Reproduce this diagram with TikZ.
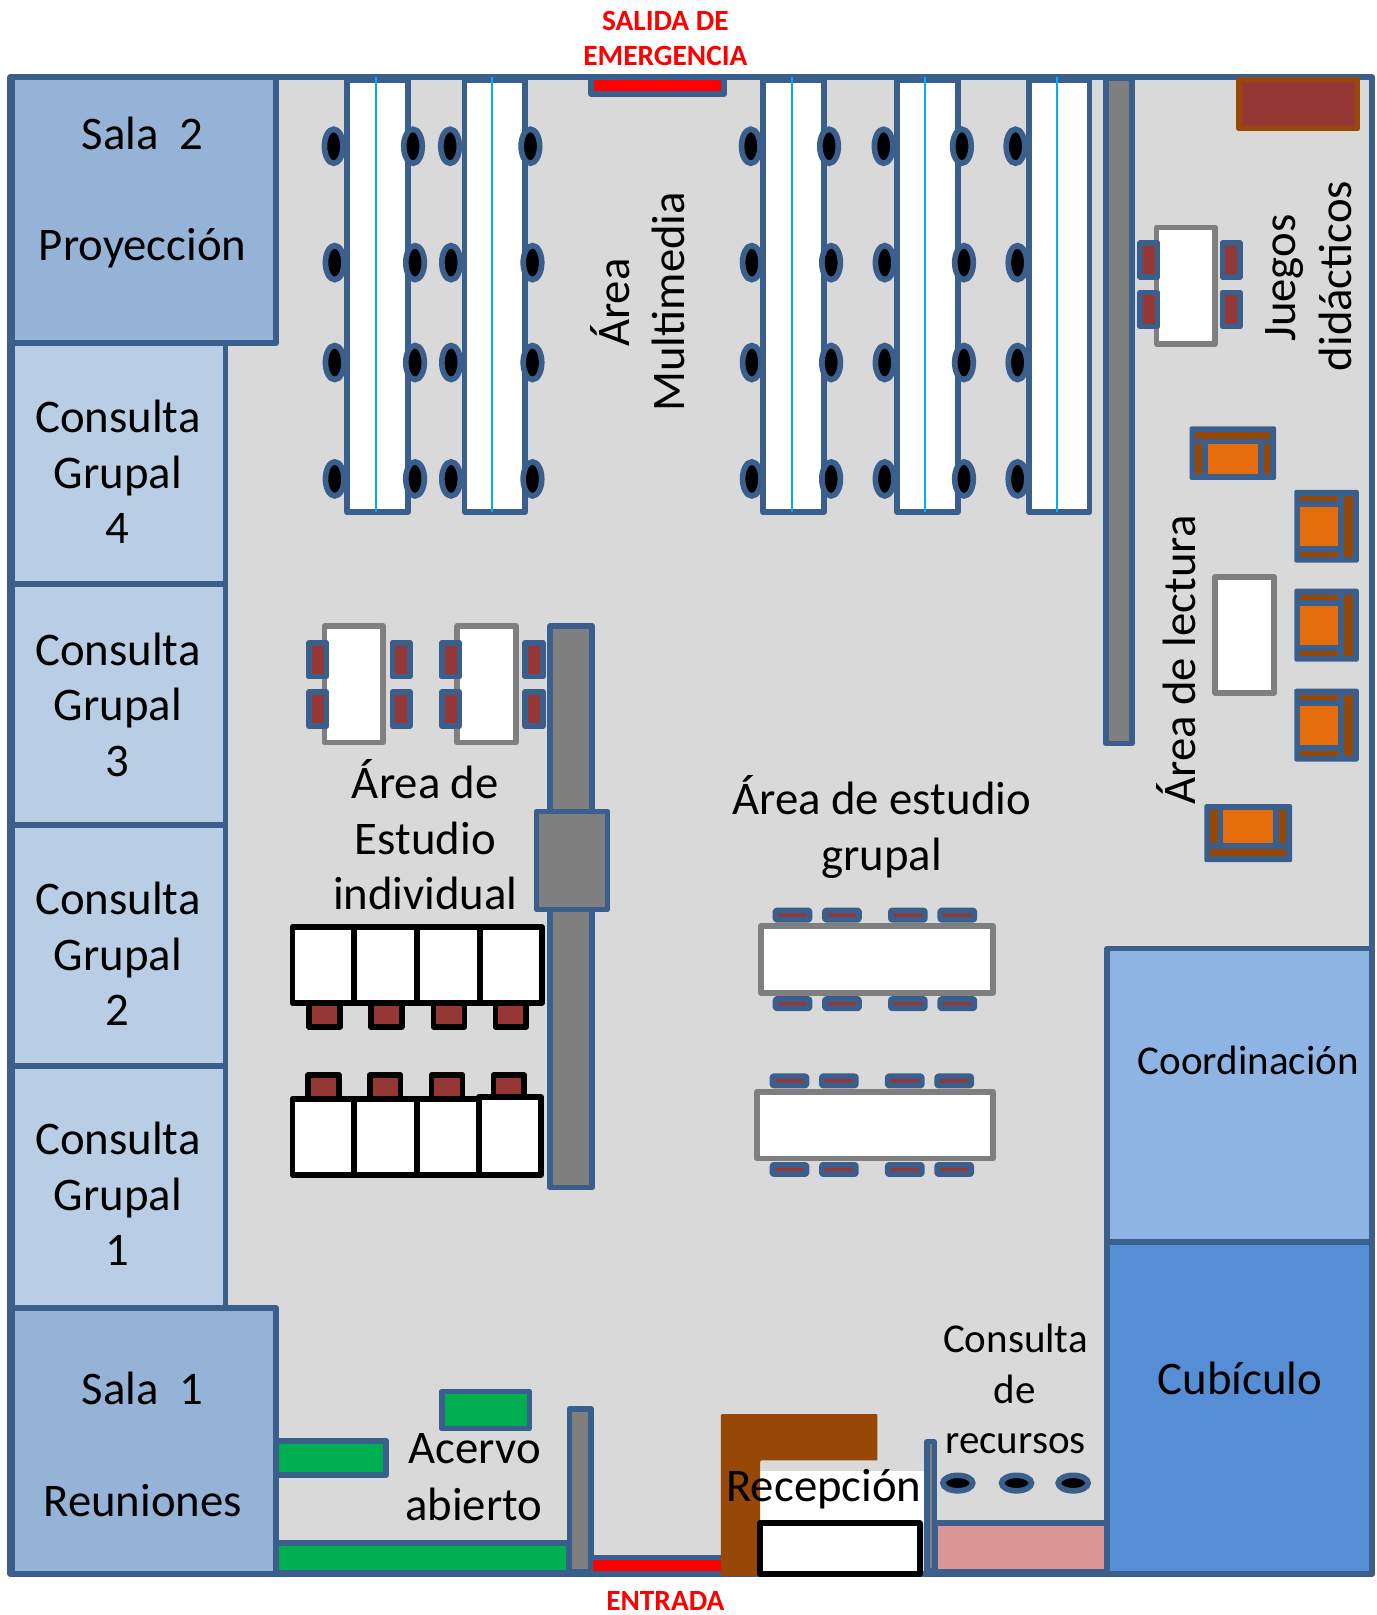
\documentclass[tikz,border=0pt]{standalone}
\usepackage{fontspec}
\setmainfont{Carlito}
\definecolor{wall}{HTML}{3A5F8C}
\definecolor{floorg}{HTML}{D9D9D9}
\definecolor{salab}{HTML}{95B3D7}
\definecolor{cons}{HTML}{B9CDE5}
\definecolor{coord}{HTML}{8EB4E3}
\definecolor{cubi}{HTML}{558ED5}
\definecolor{pil}{HTML}{7F7F7F}
\definecolor{wine}{HTML}{953735}
\definecolor{brownb}{HTML}{974706}
\definecolor{oran}{HTML}{E46C0A}
\definecolor{greenb}{HTML}{00B050}
\definecolor{pinkb}{HTML}{D99694}
\definecolor{cyanl}{HTML}{00B0F0}
\tikzset{
  box/.style={draw=wall,line width=5.5pt,line join=round},
  room/.style={box,fill=#1},
  tablew/.style={box,fill=white},
  tableg/.style={draw=pil,line width=5.5pt,line join=round,fill=white},
  blackb/.style={draw=black,line width=5.5pt,line join=round,fill=#1},
  seat/.style={draw=wall,line width=5.5pt,line join=round,fill=wine},
  stool/.style={draw=wall,line width=5.5pt,fill=black},
  lbl/.style={font=\fontsize{45.4}{54}\selectfont,text=black,inner sep=0pt,text height=39pt,text depth=9pt,align=center},
  lbs/.style={font=\fontsize{39.8}{48}\selectfont,text=black,inner sep=0pt,text height=33pt,text depth=8pt,align=center},
  lbr/.style={font=\fontsize{28.5}{30}\selectfont\bfseries,text=red,inner sep=0pt,text height=23pt,text depth=5pt,align=center},
}
\newcommand\armT[2]{\begin{scope}[shift={(#1,#2)}]
 \fill[wall,rounded corners=2pt] (-42,-26) rectangle (42,26);
 \fill[brownb] (-36.5,-20.8) rectangle (36.5,-14);
 \fill[brownb] (-36.5,-8.8) rectangle (-30,20.4);
 \fill[brownb] (30,-8.8) rectangle (36.5,20.4);
 \fill[oran] (-24,-8.8) rectangle (24,20.4);
\end{scope}}
\newcommand\armB[2]{\begin{scope}[shift={(#1,#2)}]
 \fill[wall,rounded corners=2pt] (-42.7,-28.2) rectangle (42.7,28.2);
 \fill[brownb] (-36.8,15.6) rectangle (36.8,22);
 \fill[brownb] (-36.8,-22.4) rectangle (-29.7,9.7);
 \fill[brownb] (29.7,-22.4) rectangle (36.8,9.7);
 \fill[oran] (-24.2,-22.4) rectangle (24.5,9.7);
\end{scope}}
\newcommand\armR[2]{\begin{scope}[shift={(#1,#2)}]
 \fill[wall,rounded corners=2pt] (-31.3,-35.4) rectangle (31.3,35.4);
 \fill[brownb] (17.4,-29.5) rectangle (25.4,30);
 \fill[brownb] (-25.5,-29.5) rectangle (11.5,-24.6);
 \fill[brownb] (-25.5,25) rectangle (11.5,30);
 \fill[oran] (-25.5,-18.8) rectangle (11.5,19.5);
\end{scope}}
\begin{document}
\begin{tikzpicture}[x=1pt,y=-1pt]
\useasboundingbox (0,0) rectangle (1337,1568.1);
\fill[white] (0,0) rectangle (1337,1568.1);
% floor
\draw[room=floorg] (10,75) rectangle (1332,1528);
\draw[wall,line width=8pt] (11,75) -- (11,1528);
% rooms
\draw[room=salab] (12,75) rectangle (268,333);
\draw[room=cons] (12,333) rectangle (219,567);
\draw[room=cons] (12,567) rectangle (219,801);
\draw[room=cons] (12,801) rectangle (219,1035);
\draw[room=cons] (12,1035) rectangle (219,1270);
\draw[room=salab] (12,1270) rectangle (268,1528);
\draw[room=coord] (1075,921) rectangle (1332,1206);
\draw[room=cubi] (1075,1206) rectangle (1332,1528);
% emergency exit
\draw[room=red] (574,75) rectangle (703,91);
% multimedia: left-hand stools under the tables
\foreach \x/\xa in {325/324,438/437,730/729,859/858,988/986}
  \foreach \y in {255,352,465,142}{
    \pgfmathsetmacro\xx{\y==142?\xa:\x}
    \draw[stool] (\xx,\y) ellipse [x radius=9pt,y radius=16.5pt];}
\foreach \x/\xl in {337/365,451/478,741/769,871/898,999/1026}{
  \draw[tablew] (\x,78) rectangle ++(59,419);
  \draw[cyanl,line width=1.6pt] (\xl,75) -- (\xl,497);
}
\foreach \x/\xa in {403/401,517/515,807/805,936/934}
  \foreach \y in {255,352,465,142}{
    \pgfmathsetmacro\xx{\y==142?\xa:\x}
    \draw[stool] (\xx,\y) ellipse [x radius=9pt,y radius=16.5pt];}
% partition right
\draw[room=pil] (1074,76) rectangle (1099,722);
% brown cabinet
\draw[draw=brownb,fill=wine,line width=5pt,line join=round] (1203,77) rectangle (1318,125);
% juegos table
\draw[tableg] (1123,221) rectangle (1180,334);
\foreach \y in {236,284}{
  \draw[seat] (1107,\y) rectangle (1124,\y+33);
  \draw[seat] (1187,\y) rectangle (1204,\y+33);}
% armchairs and reading table
\armT{1197}{440}
\armR{1288}{511}
\armR{1288}{607}
\armR{1288}{704}
\armB{1212}{809}
\draw[tableg] (1180,560) rectangle (1237,673);
% individual tables
\foreach \x in {298,427}{
  \draw[tableg] (\x+17,608) rectangle ++(57,113);
  \draw[seat] (\x+2,624) rectangle ++(17,33);
  \draw[seat] (\x+2,672) rectangle ++(17,33);
  \draw[seat] (\x+83,624) rectangle ++(17,33);
  \draw[seat] (\x+83,672) rectangle ++(17,33);
}
% central partition
\draw[room=pil] (534,608) rectangle (575,1153);
\draw[room=pil] (521,788) rectangle (590,883);
% desks
\foreach \x in {300,360,421,481}
  \draw[blackb=wine] (\x,972) rectangle ++(30,25);
\foreach \x/\w in {284/60,344/61,405/61,466/60}
  \draw[blackb=white] (\x,900) rectangle ++(\w,74);
\foreach \x in {299,359,419,479}
  \draw[blackb=wine] (\x,1044) rectangle ++(30,25);
\foreach \x/\w in {284/60,344/61,405/60}
  \draw[blackb=white] (\x,1067) rectangle ++(\w,74);
\draw[blackb=white] (465,1065) rectangle (525,1141);
% group tables
\foreach \x in {753,801,865,913}{
  \draw[seat,rounded corners=1pt] (\x,884) rectangle ++(33,9);
  \draw[seat,rounded corners=1pt] (\x,970) rectangle ++(33,9);}
\draw[tableg] (739,899) rectangle (964,964);
\foreach \x in {750,798,862,910}{
  \draw[seat,rounded corners=1pt] (\x,1045) rectangle ++(33,9);
  \draw[seat,rounded corners=1pt] (\x,1131) rectangle ++(33,9);}
\draw[tableg] (735,1060) rectangle (964,1125);
% acervo
\draw[room=greenb] (429,1351) rectangle (514,1387);
\draw[room=greenb] (268,1399) rectangle (375,1432);
\draw[room=greenb] (268,1498) rectangle (552,1527);
\draw[room=pil] (553,1368) rectangle (574,1526);
% entrance
\fill[wall] (576,1510) rectangle (702,1530);
\fill[red] (576,1515) rectangle (702,1525);
% reception
\fill[white] (738,1428) rectangle (897,1480);
\fill[brownb,rounded corners=1pt] (700,1373) -- (852,1373) -- (852,1418) -- (738,1418) -- (738,1530) -- (700,1530) -- cycle;
\draw[blackb=white] (738,1479) rectangle (893,1528);
% consulta de recursos
\draw[room=pinkb] (908,1479) rectangle (1075,1526);
\draw[draw=wall,line width=5pt,fill=pil,line join=round] (900,1400) rectangle (907,1525);
\foreach \x in {930,987,1042}
  \draw[stool] (\x,1440) ellipse [x radius=14.5pt,y radius=7.5pt];
% labels
\node[lbl] (sala2a) at (138.5,130) {Sala\ \ 2};
\node[lbl] (sala2b) at (138.5,238) {Proyección};
\foreach \n/\y in {4/405,3/631,2/873,1/1106}{
  \node[lbl] (cg\n a) at (114.5,\y) {Consulta};
  \node[lbl] (cg\n b) at (114.5,\y+54) {Grupal};
  \node[lbl] (cg\n c) at (114,\y+108) {\n};
}
\node[lbl] (sala1a) at (138.5,1349) {Sala\ \ 1};
\node[lbl] (sala1b) at (138.5,1457) {Reuniones};
\node[lbr] (sal1) at (646,21) {SALIDA DE};
\node[lbr] (sal2) at (646,55) {EMERGENCIA};
\node[lbr] (ent) at (646,1555) {ENTRADA};
\node[lbl,rotate=90] (m1) at (596,294) {Área};
\node[lbl,rotate=90] (m2) at (650,293) {Multimedia};
\node[lbl,rotate=90] (j1) at (1243,270) {Juegos};
\node[lbl,rotate=90] (j2) at (1297,268) {didácticos};
\node[lbl,rotate=90] (al) at (1146,641) {Área de lectura};
\node[lbl] (ei1) at (413,760) {Área de};
\node[lbl] (ei2) at (413,815) {Estudio};
\node[lbl] (ei3) at (413,868) {individual};
\node[lbl] (eg1) at (856,776) {Área de estudio};
\node[lbl] (eg2) at (856,830) {grupal};
\node[lbs] (co) at (1212,1031) {Coordinación};
\node[lbl] (cu) at (1204,1339) {Cubículo};
\node[lbl] (ac1) at (461,1406) {Acervo};
\node[lbl] (ac2) at (460,1461) {abierto};
\node[lbl] (re) at (800,1443) {Recepción};
\node[lbs] (cr1) at (986,1301) {Consulta};
\node[lbs] (cr2) at (985,1350) {de};
\node[lbs] (cr3) at (986,1399) {recursos};
\end{tikzpicture}
\end{document}
